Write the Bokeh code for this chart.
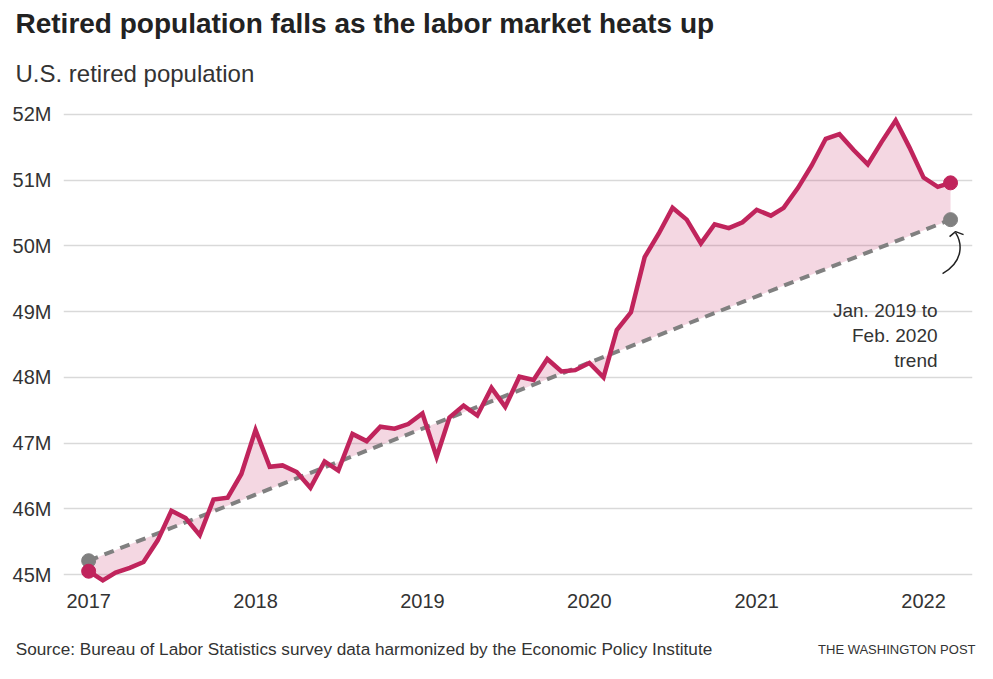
import pandas as pd
from bokeh.plotting import figure
from bokeh.models import Range1d, FixedTicker, Title, DatetimeAxis, DatetimeTickFormatter
from bokeh.core.properties import value
from bokeh.embed import file_html
from bokeh.resources import INLINE

# ---------------- data ----------------
title_text = "Retired population falls as the labor market heats up"
subtitle_text = "U.S. retired population"
source_text = "Source: Bureau of Labor Statistics survey data harmonized by the Economic Policy Institute"
credit_text = "THE WASHINGTON POST"
note_text = "Jan. 2019 to\nFeb. 2020\ntrend"

first_month = "2017-01-01"
# U.S. retired population, millions, monthly Jan 2017 - Mar 2022
retired_millions = [
    45.05, 44.91, 45.03, 45.10, 45.19, 45.52, 45.97, 45.86, 45.60, 46.14, 46.17, 46.53,
    47.20, 46.64, 46.66, 46.56, 46.32, 46.72, 46.58, 47.14, 47.03, 47.25, 47.22, 47.29,
    47.45, 46.79, 47.39, 47.57, 47.42, 47.84, 47.55, 48.01, 47.96, 48.28, 48.09, 48.11,
    48.22, 48.00, 48.72, 48.99, 49.83, 50.19, 50.58, 50.40, 50.04, 50.33, 50.27, 50.36,
    50.55, 50.46, 50.58, 50.88, 51.22, 51.63, 51.70, 51.46, 51.24, 51.58, 51.91, 51.50,
    51.04, 50.90, 50.96,
]
# Jan. 2019 to Feb. 2020 trend, value at first and last month (millions)
trend_start = 45.21
trend_end = 50.40

y_ticks = [45, 46, 47, 48, 49, 50, 51, 52]
y_tick_labels = ["45M", "46M", "47M", "48M", "49M", "50M", "51M", "52M"]
year_ticks = ["2017-01-01", "2018-01-01", "2019-01-01", "2020-01-01", "2021-01-01", "2022-01-01"]

# ---------------- styling ----------------
RED = "#c0245c"
GRAY = "#808080"
TEXT = "#333333"
FONT = "Liberation Sans"

months = pd.date_range(first_month, periods=len(retired_millions), freq="MS")
x_start = months[0] - pd.Timedelta(days=55)
x_end = months[-1] + pd.Timedelta(days=48)
y_start, y_end = 44.848, 52.213
FRAME_W, FRAME_H = 909, 484
LEFT, RIGHT = 63, 13

p = figure(
    x_axis_type="datetime",
    frame_width=FRAME_W, frame_height=FRAME_H,
    min_border_left=LEFT, min_border_right=RIGHT, min_border_top=0, min_border_bottom=87,
    x_range=Range1d(x_start, x_end), y_range=Range1d(y_start, y_end),
    output_backend="svg", toolbar_location=None,
    background_fill_color="white", border_fill_color="white",
)
p.outline_line_color = None

# grid
p.xgrid.grid_line_color = None
p.ygrid.grid_line_color = "#d9d9d9"
p.ygrid.grid_line_width = 1.5

# axes
p.yaxis.ticker = FixedTicker(ticks=y_ticks)
p.yaxis.major_label_overrides = {t: l for t, l in zip(y_ticks, y_tick_labels)}
year_ms = [pd.Timestamp(d).value // 10**6 for d in year_ticks]
p.xaxis.ticker = FixedTicker(ticks=year_ms)
p.xaxis.formatter = DatetimeTickFormatter(years="%Y", months="%Y", days="%Y")
for ax in (p.xaxis, p.yaxis):
    ax.axis_line_color = None
    ax.major_tick_line_color = None
    ax.minor_tick_line_color = None
    ax.major_label_text_font = FONT
    ax.major_label_text_font_size = "20px"
    ax.major_label_text_color = TEXT
p.yaxis.major_label_standoff = 6
p.xaxis.major_label_standoff = 3

# gap fill between actual and trend
patch_x = list(months) + [months[-1], months[0]]
patch_y = list(retired_millions) + [trend_end, trend_start]
p.patch(patch_x, patch_y, fill_color=RED, fill_alpha=0.18, line_color=None)

# trend line
p.line([months[0], months[-1]], [trend_start, trend_end], line_color=GRAY,
       line_width=4, line_dash="10 7")
# actual line
p.line(months, retired_millions, line_color=RED, line_width=4.5, line_join="miter")

# end dots
p.scatter([months[0], months[-1]], [trend_start, trend_end], size=14, color=GRAY)
p.scatter([months[0], months[-1]], [retired_millions[0], retired_millions[-1]], size=14, color=RED)

# annotation (pixel offsets relative to the trend end point)
x_start_ms = x_start.value / 1e6
last_ms = months[-1].value / 1e6
ms_per_px = (x_end - x_start).total_seconds() * 1000 / FRAME_W
val_per_px = (y_end - y_start) / FRAME_H
def ax_(dx):
    return last_ms + dx * ms_per_px
def ay_(dy):
    return trend_end - dy * val_per_px

p.text(x=[ax_(-13)], y=[ay_(80)], text=[note_text], text_align="right",
       text_baseline="top", text_font=value(FONT), text_font_size="19px",
       text_color=TEXT, text_line_height=1.2)
p.bezier(x0=[ax_(-8)], y0=[ay_(54)], x1=[ax_(5)], y1=[ay_(13)],
         cx0=[ax_(13)], cy0=[ay_(42)], cx1=[ax_(12)], cy1=[ay_(24)],
         line_color="#222222", line_width=1.5)
p.line([ax_(-1), ax_(5), ax_(13)], [ay_(17), ay_(12), ay_(15)],
       line_color="#222222", line_width=1.5)

# titles
p.add_layout(Title(text=subtitle_text, text_font=FONT, text_font_size="24px",
                   text_font_style="normal", text_color=TEXT, align="left",
                   offset=15 - LEFT, standoff=27), "above")
p.add_layout(Title(text=title_text, text_font=FONT, text_font_size="28px",
                   text_font_style="bold", text_color="#222222", align="left",
                   offset=15 - LEFT, standoff=11), "above")

# footer: source as a label row under the year axis, centred on its own tick
SRC_W = 697
src_center_px = 15 + SRC_W / 2 - LEFT
src_tick = int(x_start_ms + src_center_px * ms_per_px)
src_axis = DatetimeAxis(ticker=FixedTicker(ticks=[src_tick]),
                        major_label_overrides={src_tick: source_text})
src_axis.axis_line_color = None
src_axis.major_tick_line_color = None
src_axis.minor_tick_line_color = None
src_axis.major_label_text_font = FONT
src_axis.major_label_text_font_size = "17.2px"
src_axis.major_label_text_color = TEXT
src_axis.major_label_standoff = 22
p.add_layout(src_axis, "below")

# credit on the same line, right-aligned
p.add_layout(Title(text=credit_text, text_font=FONT, text_font_size="13px",
                   text_font_style="normal", text_color=TEXT, align="right",
                   vertical_align="top", offset=-3, standoff=-40), "below")

open("out.html", "w").write(file_html(p, INLINE))
